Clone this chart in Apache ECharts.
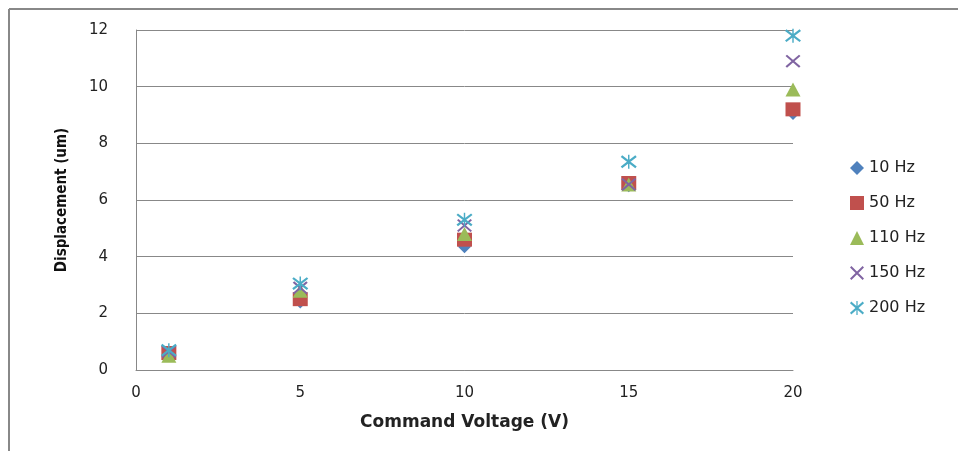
<!DOCTYPE html>
<html>
<head>
<meta charset="utf-8">
<script src="https://cdn.jsdelivr.net/npm/echarts@6/dist/echarts.min.js"></script>
<style>
  html, body { margin: 0; padding: 0; background: #fff; }
  #main { width: 958px; height: 451px; }
</style>
</head>
<body>
<div id="main"></div>
<script>
// 数据
var voltages = [1, 5, 10, 15, 20];
var seriesNames = ['10 Hz', '50 Hz', '110 Hz', '150 Hz', '200 Hz'];
var hz10 = [0.55, 2.4, 4.35, 6.5, 9.05];
var hz50 = [0.6, 2.5, 4.6, 6.6, 9.2];
var hz110 = [0.5, 2.8, 4.8, 6.55, 9.9];
var hz150 = [0.65, 2.9, 5.1, 6.55, 10.9];
var hz200 = [0.7, 3.05, 5.3, 7.35, 11.8];
var yTicks = [0, 2, 4, 6, 8, 10, 12];

var colors = ['#4F81BD', '#C0504D', '#9BBB59', '#8064A2', '#4BACC6'];
var crossPath = 'path://M0,1L1,0L10,9L9,10Z M9,0L10,1L1,10L0,9Z';
var starPath = 'path://M0,1.6L0.9,0.4L10,8.4L9.1,9.6Z M9.1,0.4L10,1.6L0.9,9.6L0,8.4Z M4.55,0L5.45,0L5.45,10L4.55,10Z';
var symbols = ['diamond', 'rect', 'triangle', crossPath, starPath];
var sizes = [[13, 13], [15, 14], [15, 14], [15, 13], [16, 14]];
var allData = [hz10, hz50, hz110, hz150, hz200];

var myChart = echarts.init(document.getElementById('main'));

var series = [];
for (var i = 0; i < seriesNames.length; i++) {
    var pts = [];
    for (var j = 0; j < voltages.length; j++) {
        pts.push([voltages[j], allData[i][j]]);
    }
    series.push({
        name: seriesNames[i],
        type: 'scatter',
        symbol: symbols[i],
        symbolSize: sizes[i],
        data: pts,
        itemStyle: { color: colors[i], opacity: 1 },
        z: 2 + i
    });
}

var option = {
    animation: false,
    color: colors,
    graphic: [
        { type: 'line', shape: { x1: 9, y1: 9, x2: 958, y2: 9 }, style: { stroke: '#888', lineWidth: 2 } },
        { type: 'line', shape: { x1: 9, y1: 9, x2: 9, y2: 451 }, style: { stroke: '#888', lineWidth: 2 } }
    ],
    grid: { left: 136, right: 165, top: 30, bottom: 81 },
    legend: {
        orient: 'vertical',
        left: 845,
        top: 155,
        itemGap: 19,
        itemWidth: 14,
        itemHeight: 14,
        data: seriesNames,
        textStyle: { fontFamily: 'DejaVu Sans', fontSize: 16, color: '#222' }
    },
    xAxis: {
        type: 'value',
        min: 0,
        max: 20,
        interval: 5,
        name: 'Command Voltage (V)',
        nameLocation: 'middle',
        nameGap: 44,
        nameTextStyle: { fontFamily: 'DejaVu Sans', fontWeight: 'bold', fontSize: 17, color: '#222' },
        axisLine: { show: true, lineStyle: { color: '#888', width: 1 } },
        axisTick: { show: false },
        splitLine: { show: false },
        axisLabel: { margin: 16, fontFamily: 'DejaVu Sans', fontSize: 15, color: '#222' }
    },
    yAxis: {
        type: 'value',
        min: yTicks[0],
        max: yTicks[yTicks.length - 1],
        interval: yTicks[1] - yTicks[0],
        name: 'Displacement (um)',
        nameLocation: 'middle',
        nameGap: 66,
        nameRotate: 90,
        nameTextStyle: { fontFamily: 'DejaVu Sans Condensed', fontWeight: 'bold', fontSize: 15, color: '#111' },
        axisLine: { show: true, lineStyle: { color: '#888', width: 1 } },
        axisTick: { show: false },
        splitLine: { show: true, lineStyle: { color: '#888', width: 1 } },
        axisLabel: { margin: 28, fontFamily: 'DejaVu Sans', fontSize: 15, color: '#222' }
    },
    series: series
};

myChart.setOption(option);
</script>
</body>
</html>
